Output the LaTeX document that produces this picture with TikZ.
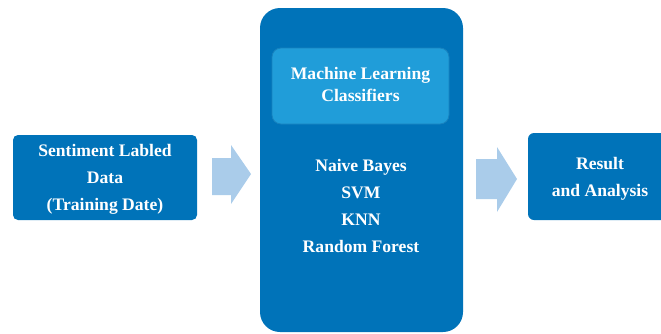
\documentclass[tikz,border=0pt]{standalone}
\usepackage{fontspec}
\setmainfont{Liberation Serif}
\definecolor{mainblue}{RGB}{0,115,185}
\definecolor{innerblue}{RGB}{32,157,217}
\definecolor{innerline}{RGB}{24,130,190}
\definecolor{arrowblue}{RGB}{170,204,234}
\tikzset{
  label text/.style={text=white, font=\fontsize{17.6}{27}\selectfont\bfseries, align=center},
  blockarrow/.style={fill=arrowblue, draw=none},
}
\begin{document}
\begin{tikzpicture}[x=1pt, y=-1pt]
\useasboundingbox (0,0) rectangle (661,333);
\clip (0,0) rectangle (661,333);

% input box
\fill[mainblue, rounded corners=5pt] (13,135) rectangle (197,220);
\node[label text] (input) at (105,179.5) {Sentiment Labled\\Data\\(Training Date)};

% central classifier panel
\fill[mainblue, rounded corners=20pt] (260,8) rectangle (463,332);
\coordinate (panel) at (361.5,170);
\filldraw[fill=innerblue, draw=innerline, line width=0.8pt, rounded corners=9pt] (272,48) rectangle (449,124);
\node[label text, font=\fontsize{17.6}{22.5}\selectfont\bfseries] (mlc) at (360.5,84.5) {Machine Learning\\Classifiers};
\node[label text] (models) at (361,205.5) {Naive Bayes\\SVM\\KNN\\Random Forest};

% output box
\fill[mainblue, rounded corners=6pt] (528,133) rectangle (672,220);
\node[label text] (output) at (600,178.5) {Result\\and Analysis};

% block arrows between the stages
\fill[blockarrow] (212,158) -- (231,158) -- (231,145) -- (251,174) -- (231,204) -- (231,195) -- (212,195) -- cycle;
\fill[blockarrow] (476,159) -- (497,159) -- (497,147) -- (517,179) -- (497,212) -- (497,199) -- (476,199) -- cycle;
\end{tikzpicture}
\end{document}
